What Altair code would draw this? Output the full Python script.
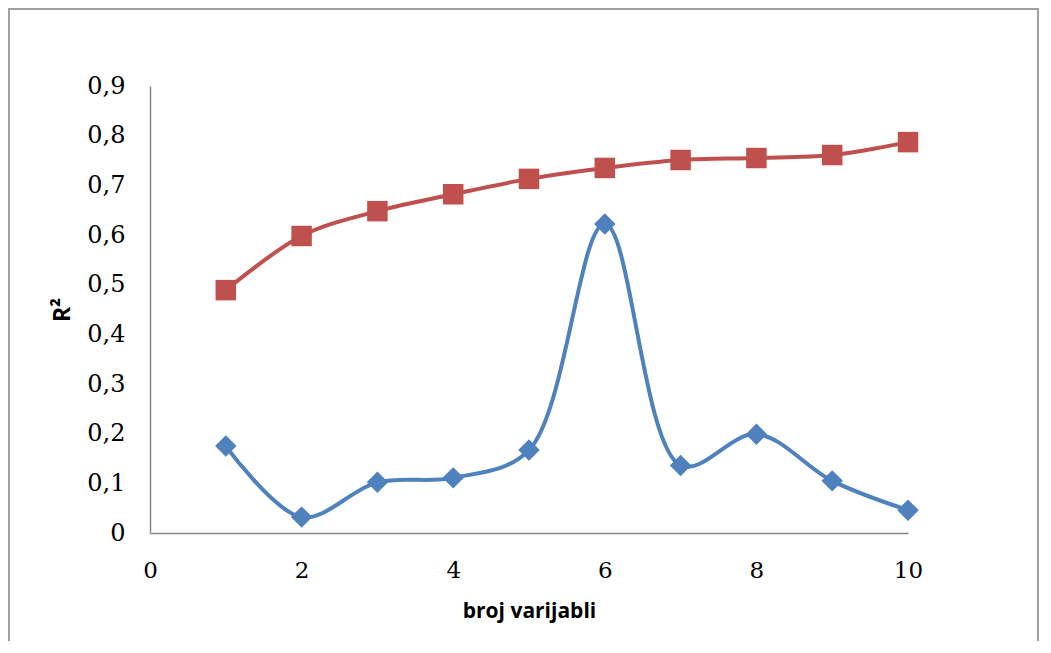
import altair as alt
import pandas as pd

x_vals = [1, 2, 3, 4, 5, 6, 7, 8, 9, 10]
blue_vals = [0.175, 0.032, 0.102, 0.111, 0.167, 0.622, 0.136, 0.199, 0.105, 0.046]
red_vals = [0.489, 0.598, 0.648, 0.682, 0.713, 0.735, 0.751, 0.755, 0.761, 0.787]
x_ticks = [0, 2, 4, 6, 8, 10]
y_ticks = [0, 0.1, 0.2, 0.3, 0.4, 0.5, 0.6, 0.7, 0.8, 0.9]

df_blue = pd.DataFrame({"x": x_vals, "y": blue_vals})
df_red = pd.DataFrame({"x": x_vals, "y": red_vals})

BLUE = "#4F81BD"
RED = "#C0504D"
AX = "#868686"

xenc = alt.X("x:Q", scale=alt.Scale(domain=[0, 10], nice=False),
             axis=alt.Axis(values=x_ticks, title="broj varijabli", grid=False, ticks=False,
                           format="d", domainColor=AX, domainWidth=1.5, labelFlush=False,
                           labelFont="DejaVu Serif", labelFontSize=23, labelColor="#000",
                           labelPadding=26,
                           titleFont="Open Sans", titleFontSize=21, titleFontWeight="bold",
                           titleColor="#000", titlePadding=18))
yenc = alt.Y("y:Q", scale=alt.Scale(domain=[0, 0.9], nice=False),
             axis=alt.Axis(values=y_ticks, title="R²", grid=False, ticks=False,
                           domainColor=AX, domainWidth=1.5, labelFlush=False,
                           labelExpr="datum.value == 0 ? '0' : replace(format(datum.value, '.1f'), '.', ',')",
                           labelFont="DejaVu Serif", labelFontSize=24, labelColor="#000",
                           labelPadding=25,
                           titleFont="Open Sans", titleFontSize=23, titleFontWeight="bold",
                           titleColor="#000", titlePadding=12))

blue_line = alt.Chart(df_blue).mark_line(color=BLUE, strokeWidth=4, interpolate="catmull-rom").encode(x=xenc, y=yenc)
blue_pts = alt.Chart(df_blue).mark_point(shape="diamond", filled=True, color=BLUE, opacity=1, size=460).encode(x="x:Q", y="y:Q")
red_line = alt.Chart(df_red).mark_line(color=RED, strokeWidth=4, interpolate="catmull-rom").encode(x="x:Q", y="y:Q")
red_pts = alt.Chart(df_red).mark_point(shape="square", filled=True, color=RED, opacity=1, size=420).encode(x="x:Q", y="y:Q")

border = alt.Chart(pd.DataFrame({"a": [0]})).mark_rect(fill=None, stroke="#A0A0A0", strokeWidth=2, clip=False).encode(
    x=alt.value(-141), x2=alt.value(888), y=alt.value(-77), y2=alt.value(700))

chart = alt.layer(border, red_line, red_pts, blue_line, blue_pts).properties(
    width=758, height=447,
    autosize=alt.AutoSizeParams(type="none"),
    padding={"left": 142, "top": 78, "right": 132, "bottom": 108},
).configure_view(stroke=None)

chart.save("out.html", embed_options={"renderer": "svg", "actions": False})
